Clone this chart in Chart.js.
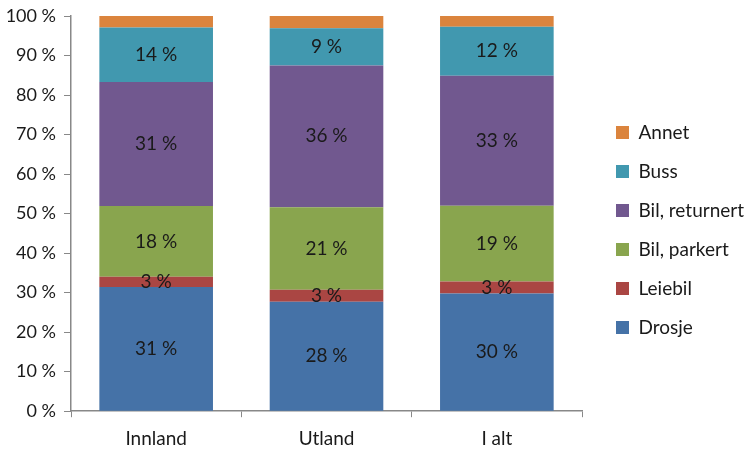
<!DOCTYPE html>
<html>
<head>
<meta charset="utf-8">
<script src="https://cdn.jsdelivr.net/npm/chart.js@4.4.0/dist/chart.umd.min.js"></script>
<style>
  html, body { margin: 0; padding: 0; background: #fff; }
  #wrap { width: 752px; height: 454px; }
</style>
</head>
<body>
<div id="wrap"><canvas id="reiser"></canvas></div>
<script>
// andeler i prosent, lest av figuren
const kategorier = ['Innland', 'Utland', 'I alt'];
const drosje = [31.4, 27.7, 29.8];
const leiebil = [2.6, 3.0, 3.0];
const bilParkert = [17.9, 20.9, 19.2];
const bilReturnert = [31.4, 35.9, 32.9];
const buss = [13.8, 9.4, 12.4];
const annet = [2.9, 3.1, 2.7];
const visEtikett = [true, true, true, true, true, false];

const font = { family: 'Lato', size: 19 };

// skriver verdien midt i hver del av stolpen
const etiketter = {
  id: 'etiketter',
  afterDatasetsDraw(chart) {
    const ctx = chart.ctx;
    ctx.save();
    ctx.font = font.size + 'px ' + font.family;
    ctx.fillStyle = '#1a1a1a';
    ctx.textAlign = 'center';
    ctx.textBaseline = 'middle';
    chart.data.datasets.forEach((ds, i) => {
      if (!visEtikett[i]) return;
      chart.getDatasetMeta(i).data.forEach((bar, j) => {
        const mid = (bar.y + bar.base) / 2;
        ctx.fillText(Math.round(ds.data[j]) + ' %', bar.x, mid);
      });
    });
    ctx.restore();
  }
};

// litt ekstra luft mellom stolpene og forklaringen
const bredForklaring = {
  id: 'bredForklaring',
  beforeLayout(chart) {
    const lg = chart.legend;
    if (!lg || lg._utvidet) return;
    const fit = lg.fit;
    lg.fit = function () {
      fit.call(this);
      this.width += 12;
    };
    lg._utvidet = true;
  },
  afterLayout(chart) {
    const lg = chart.legend;
    lg.left += 14;
    lg.right += 14;
  }
};

new Chart(document.getElementById('reiser').getContext('2d'), {
  type: 'bar',
  data: {
    labels: kategorier,
    datasets: [
      { label: 'Drosje', data: drosje, backgroundColor: '#4572A7' },
      { label: 'Leiebil', data: leiebil, backgroundColor: '#AA4643' },
      { label: 'Bil, parkert', data: bilParkert, backgroundColor: '#89A54E' },
      { label: 'Bil, returnert', data: bilReturnert, backgroundColor: '#71588F' },
      { label: 'Buss', data: buss, backgroundColor: '#4198AF' },
      { label: 'Annet', data: annet, backgroundColor: '#DB843D' }
    ]
  },
  options: {
    responsive: true,
    maintainAspectRatio: false,
    animation: false,
    categoryPercentage: 0.667,
    barPercentage: 1,
    layout: { padding: { top: 0, right: 0, left: 0, bottom: -6 } },
    plugins: {
      legend: {
        position: 'right',
        reverse: true,
        labels: {
          font: font,
          color: '#1a1a1a',
          boxWidth: 13,
          boxHeight: 13,
          padding: 20
        }
      },
      tooltip: { enabled: false }
    },
    scales: {
      x: {
        stacked: true,
        grid: { display: true, drawOnChartArea: false, tickLength: 6, color: '#888' },
        border: { color: '#888', width: 1.5 },
        ticks: { font: font, color: '#1a1a1a', padding: 10 }
      },
      y: {
        stacked: true,
        min: 0,
        max: 100,
        grid: { display: true, drawOnChartArea: false, tickLength: 7, color: '#888' },
        border: { color: '#888', width: 1.5 },
        ticks: {
          stepSize: 10,
          font: { family: 'Lato', size: 18 },
          color: '#1a1a1a',
          padding: 8,
          callback: v => v + ' %'
        },
        afterFit: s => {
          s.width = 71;
          s.paddingTop = 16;
        }
      }
    }
  },
  plugins: [etiketter, bredForklaring]
});
</script>
</body>
</html>
